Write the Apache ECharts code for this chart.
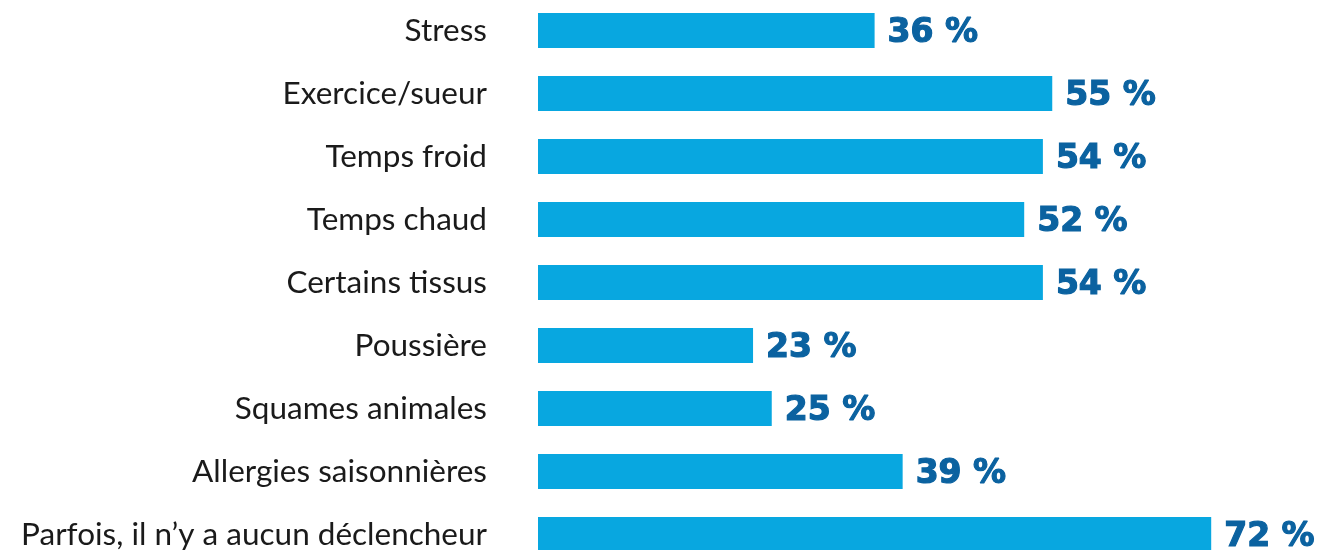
<!DOCTYPE html>
<html><head><meta charset="utf-8">
<script src="https://cdn.jsdelivr.net/npm/echarts@6/dist/echarts.min.js"></script>
<style>html,body{margin:0;padding:0;background:#fff}#c{width:1322px;height:550px}</style>
</head><body><div id="c"></div>
<script>
const categories = ["Stress","Exercice/sueur","Temps froid","Temps chaud","Certains tissus","Poussière","Squames animales","Allergies saisonnières","Parfois, il n’y a aucun déclencheur"];
const values = [36,55,54,52,54,23,25,39,72];
const chart = echarts.init(document.getElementById('c'));
chart.setOption({
  animation:false,
  grid:{left:538,width:748,top:-1,height:567,containLabel:false,outerBoundsMode:'none'},
  xAxis:{type:'value',min:0,max:80,show:false},
  yAxis:{type:'category',data:categories,inverse:true,
    axisLine:{show:false},axisTick:{show:false},
    axisLabel:{margin:51,color:'#1a1a1a',fontFamily:'Lato',fontSize:31.5}},
  series:[{type:'bar',data:values,barWidth:35,itemStyle:{color:'#08a7e0'},
    label:{show:true,position:'right',distance:13,offset:[0,3],formatter:'{c} %',
      color:'#0b62a0',fontFamily:'DejaVu Sans',fontWeight:'bold',fontSize:33,
      textBorderColor:'#0b62a0',textBorderWidth:1.2}}]
});
</script></body></html>
